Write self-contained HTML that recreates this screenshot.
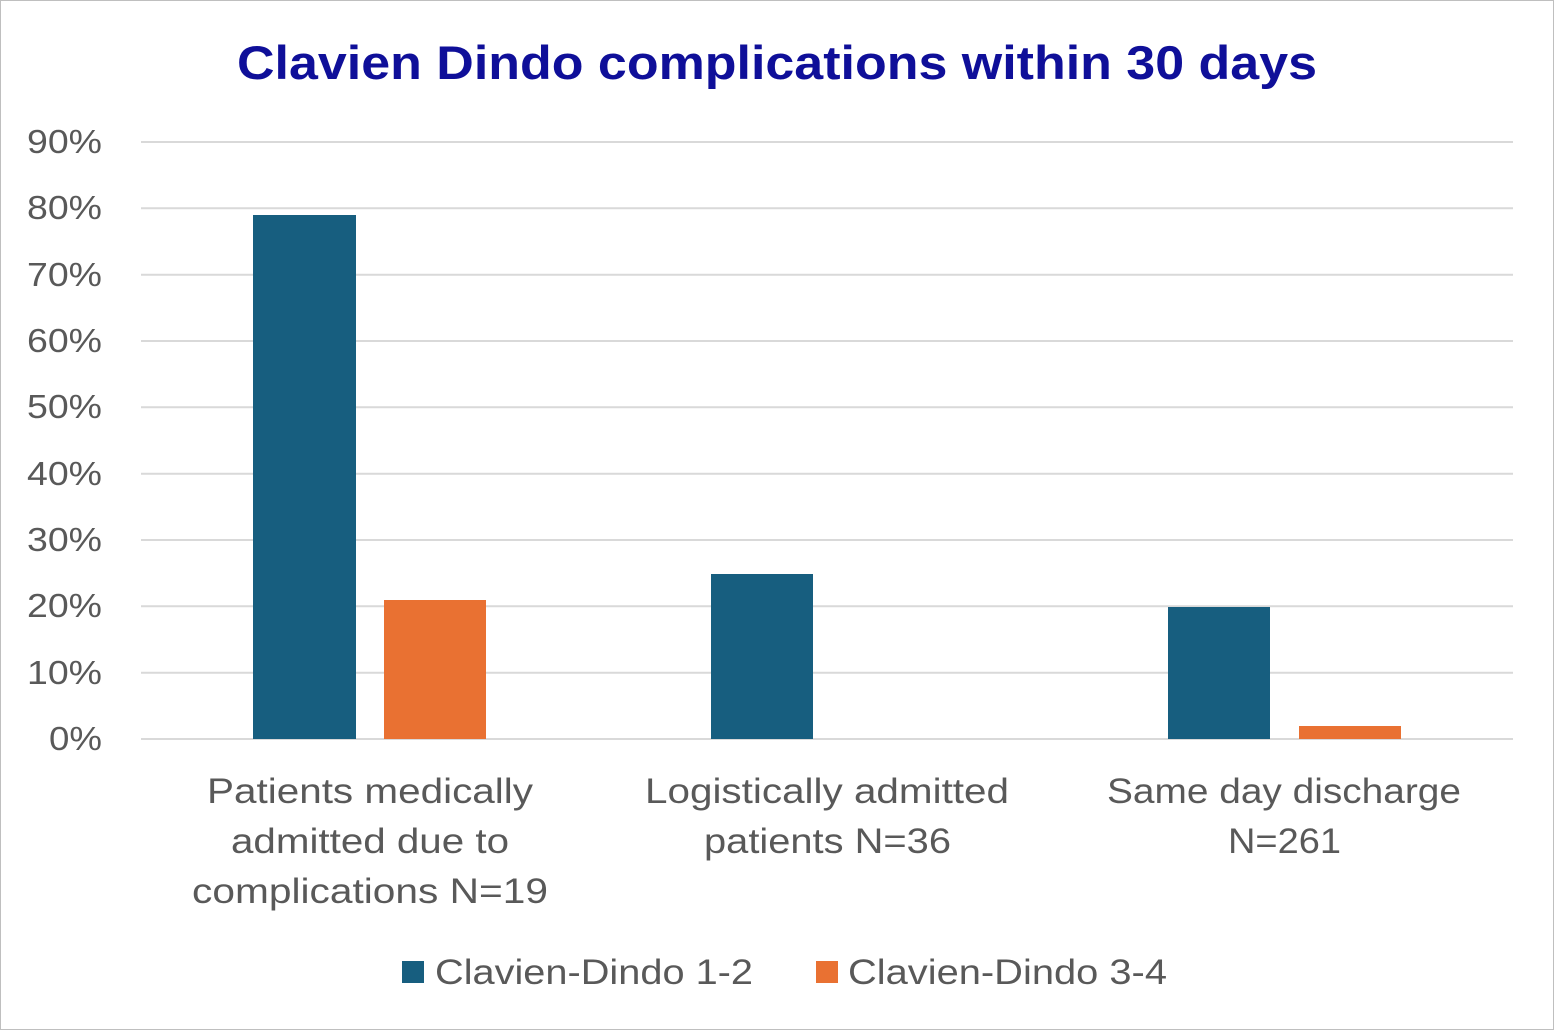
<!DOCTYPE html>
<html><head><meta charset="utf-8"><style>
html,body{margin:0;padding:0;background:#fff;}
svg{display:block;font-family:"Liberation Sans",Arial,sans-serif;}
</style></head><body>
<svg width="1554" height="1030" viewBox="0 0 1554 1030" xmlns="http://www.w3.org/2000/svg">
<rect x="0.5" y="0.5" width="1553" height="1029" fill="#fff" stroke="#bfbfbf" stroke-width="1"/>
<text x="237" y="79" font-size="47" font-weight="bold" fill="#0F0F99" textLength="1080" lengthAdjust="spacingAndGlyphs">Clavien Dindo complications within 30 days</text>
<g stroke="#d9d9d9" stroke-width="2">
<line x1="141" x2="1513" y1="142" y2="142"/>
<line x1="141" x2="1513" y1="208.3" y2="208.3"/>
<line x1="141" x2="1513" y1="274.7" y2="274.7"/>
<line x1="141" x2="1513" y1="341" y2="341"/>
<line x1="141" x2="1513" y1="407.3" y2="407.3"/>
<line x1="141" x2="1513" y1="473.7" y2="473.7"/>
<line x1="141" x2="1513" y1="540" y2="540"/>
<line x1="141" x2="1513" y1="606.3" y2="606.3"/>
<line x1="141" x2="1513" y1="672.7" y2="672.7"/>
<line x1="141" x2="1513" y1="739" y2="739"/>
</g>
<g font-size="33" fill="#595959">
<text x="27" y="153" textLength="75" lengthAdjust="spacingAndGlyphs">90%</text>
<text x="27" y="219" textLength="75" lengthAdjust="spacingAndGlyphs">80%</text>
<text x="27" y="286" textLength="75" lengthAdjust="spacingAndGlyphs">70%</text>
<text x="27" y="352" textLength="75" lengthAdjust="spacingAndGlyphs">60%</text>
<text x="27" y="418" textLength="75" lengthAdjust="spacingAndGlyphs">50%</text>
<text x="27" y="485" textLength="75" lengthAdjust="spacingAndGlyphs">40%</text>
<text x="27" y="551" textLength="75" lengthAdjust="spacingAndGlyphs">30%</text>
<text x="27" y="617" textLength="75" lengthAdjust="spacingAndGlyphs">20%</text>
<text x="27" y="684" textLength="75" lengthAdjust="spacingAndGlyphs">10%</text>
<text x="49" y="750" textLength="53" lengthAdjust="spacingAndGlyphs">0%</text>
</g>
<rect x="253" y="215" width="103" height="524" fill="#175E7F"/>
<rect x="384" y="600" width="102" height="139" fill="#E97132"/>
<rect x="711" y="574" width="102" height="165" fill="#175E7F"/>
<rect x="1168" y="607" width="102" height="132" fill="#175E7F"/>
<rect x="1299" y="726" width="102" height="13" fill="#E97132"/>
<g font-size="35" fill="#595959">
<text x="207" y="803" textLength="326" lengthAdjust="spacingAndGlyphs">Patients medically</text>
<text x="231" y="853" textLength="278" lengthAdjust="spacingAndGlyphs">admitted due to</text>
<text x="192" y="903" textLength="356" lengthAdjust="spacingAndGlyphs">complications N=19</text>
<text x="645" y="803" textLength="364" lengthAdjust="spacingAndGlyphs">Logistically admitted</text>
<text x="704" y="853" textLength="247" lengthAdjust="spacingAndGlyphs">patients N=36</text>
<text x="1107" y="803" textLength="354" lengthAdjust="spacingAndGlyphs">Same day discharge</text>
<text x="1228" y="853" textLength="113" lengthAdjust="spacingAndGlyphs">N=261</text>
</g>
<rect x="402" y="961" width="22" height="22" fill="#175E7F"/>
<text x="435" y="984" font-size="35" fill="#595959" textLength="318" lengthAdjust="spacingAndGlyphs">Clavien-Dindo 1-2</text>
<rect x="816" y="961" width="22" height="22" fill="#E97132"/>
<text x="848" y="984" font-size="35" fill="#595959" textLength="319" lengthAdjust="spacingAndGlyphs">Clavien-Dindo 3-4</text>
</svg>
</body></html>
